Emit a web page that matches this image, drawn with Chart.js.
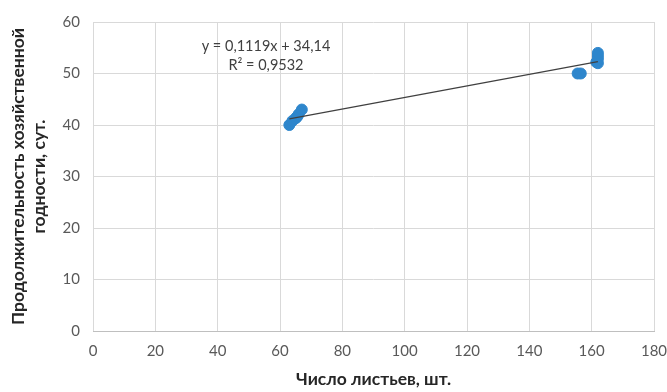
<!DOCTYPE html>
<html><head><meta charset="utf-8">
<script src="https://cdn.jsdelivr.net/npm/chart.js@4"></script>
<style>html,body{margin:0;padding:0;background:#fff}#w{width:667px;height:392px}</style>
</head><body><div id="w"><canvas id="c"></canvas></div>
<script>
const leavesX = [63, 64, 65, 65.5, 66, 67, 155.5, 156.5, 161.5, 162, 162, 162, 162];
const daysY   = [40, 40.8, 41.3, 41.6, 42.1, 43, 50, 50, 52.2, 52, 52.8, 53.4, 54];
const trendX = [63, 162];
const trendY = [41.2, 52.3];
const xTicks = [0, 20, 40, 60, 80, 100, 120, 140, 160, 180];
const yTicks = [0, 10, 20, 30, 40, 50, 60];
const eqLines = ['y = 0,1119x + 34,14', 'R² = 0,9532'];
const xTitle = 'Число листьев, шт.';
const yTitle = ['Продолжительность хозяйственной', 'годности, сут.'];

const FONT = 'Lato, "Open Sans", sans-serif';
const pts = leavesX.map((x,i)=>({x, y: daysY[i]}));
const trend = trendX.map((x,i)=>({x, y: trendY[i]}));

const eqPlugin = {
  id:'eq',
  afterDatasetsDraw(chart){
    const {ctx, scales:{x, y}} = chart;
    ctx.save();
    ctx.fillStyle = '#404040';
    ctx.font = '14.5px ' + FONT;
    ctx.textAlign = 'center';
    ctx.textBaseline = 'middle';
    const cx = x.getPixelForValue(55.5);
    ctx.fillText(eqLines[0], cx, y.getPixelForValue(55.2));
    ctx.fillText(eqLines[1], cx, y.getPixelForValue(51.6));
    ctx.restore();
  }
};

new Chart(document.getElementById('c'), {
  type: 'scatter',
  data: { datasets: [
    { data: trend, type:'line', borderColor:'#404040', borderWidth:1.2, pointRadius:0, fill:false, order:0 },
    { data: pts, backgroundColor:'#2E86CC', borderColor:'#2E86CC', pointRadius:5.5, pointHoverRadius:5.5, order:1 }
  ]},
  options: {
    responsive:true, maintainAspectRatio:false, animation:false,
    layout:{ padding:{ left:8, right:0, top:12, bottom:2 } },
    plugins:{ legend:{display:false}, tooltip:{enabled:false} },
    scales:{
      x:{ type:'linear', min:0, max:180,
        afterBuildTicks(s){ s.ticks = xTicks.map(v=>({value:v})); },
        grid:{ color:'#d9d9d9', lineWidth:1, drawTicks:false },
        border:{ color:'#bfbfbf' },
        ticks:{ color:'#595959', font:{family:FONT, size:15}, padding:11, maxRotation:0 },
        title:{ display:true, text:xTitle, color:'#262626', font:{family:FONT, size:17.5, weight:'bold'}, padding:{top:8, bottom:0} },
        afterFit(s){ s.height = 59; s.paddingRight = 13; s.paddingLeft = 0; }
      },
      y:{ type:'linear', min:0, max:60,
        afterBuildTicks(s){ s.ticks = yTicks.map(v=>({value:v})); },
        grid:{ color:'#d9d9d9', lineWidth:1, drawTicks:false },
        border:{ display:false },
        ticks:{ color:'#595959', font:{family:FONT, size:15}, padding:13 },
        title:{ display:true, text:yTitle, color:'#262626', font:{family:FONT, size:17.5, weight:'bold'}, padding:{top:0, bottom:4} },
        afterFit(s){ s.width = 85; }
      }
    }
  },
  plugins:[eqPlugin]
});
</script></body></html>
